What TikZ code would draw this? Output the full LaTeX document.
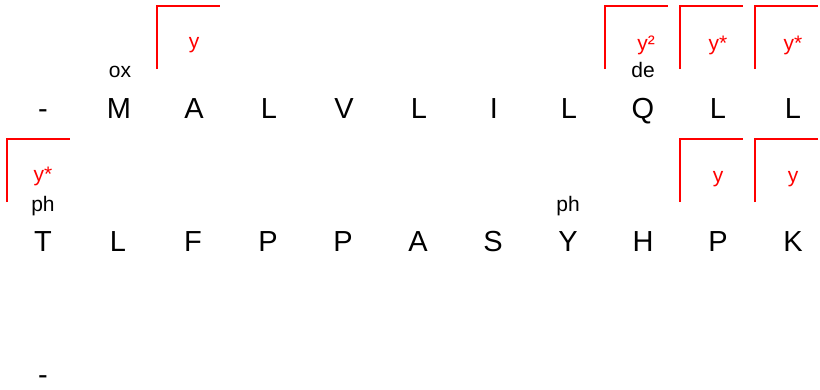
\documentclass[tikz,border=0pt]{standalone}
\usepackage{fontspec}
\setmainfont{Liberation Sans}
\usepackage{tikz}
\usepackage{xcolor}
\tikzset{
  res/.style={anchor=base,inner sep=0pt,font=\fontsize{29}{31}\selectfont},
  mod/.style={anchor=base,inner sep=0pt,font=\fontsize{21}{23}\selectfont},
  tag/.style={mod,text=red},
  brk/.style={draw=red,line width=2.8pt}
}

\begin{document}
\begin{tikzpicture}[x=1pt,y=-1pt]
\useasboundingbox (0,0) rectangle (820,389);
% first row
\node[res] (a1) at (43,118) {-};
\node[res] (a2) at (119,118) {M};
\node[res] (a3) at (194,118) {A};
\node[res] (a4) at (269,118) {L};
\node[res] (a5) at (344,118) {V};
\node[res] (a6) at (419,118) {L};
\node[res] (a7) at (494,118) {I};
\node[res] (a8) at (569,118) {L};
\node[res] (a9) at (643,118) {Q};
\node[res] (a10) at (718,118) {L};
\node[res] (a11) at (793,118) {L};
\node[mod] (ox) at (120,77) {ox};
\node[mod] (de) at (643,77) {de};
\draw[brk] (157,69) |- (220,6); \node[tag] (ya3) at (194,48) {y};
\draw[brk] (605,69) |- (668,6); \node[tag] (ya9) at (646,50) {y²};
\draw[brk] (680,69) |- (743,6); \node[tag] (ya10) at (718,50) {y*};
\draw[brk] (755,69) |- (818,6); \node[tag] (ya11) at (793,50) {y*};
% second row
\node[res] (b1) at (43,251) {T};
\node[res] (b2) at (118,251) {L};
\node[res] (b3) at (193,251) {F};
\node[res] (b4) at (268,251) {P};
\node[res] (b5) at (343,251) {P};
\node[res] (b6) at (418,251) {A};
\node[res] (b7) at (493,251) {S};
\node[res] (b8) at (568,251) {Y};
\node[res] (b9) at (643,251) {H};
\node[res] (b10) at (718,251) {P};
\node[res] (b11) at (793,251) {K};
\node[mod] (ph1) at (43,211) {ph};
\node[mod] (ph8) at (568,211) {ph};
\draw[brk] (7,202) |- (70,139); \node[tag] (yb1) at (43,181) {y*};
\draw[brk] (680,202) |- (743,139); \node[tag] (yb10) at (718,182) {y};
\draw[brk] (755,202) |- (818,139); \node[tag] (yb11) at (793,182) {y};
% third row
\node[res] (c1) at (43,384) {-};
\end{tikzpicture}
\end{document}
